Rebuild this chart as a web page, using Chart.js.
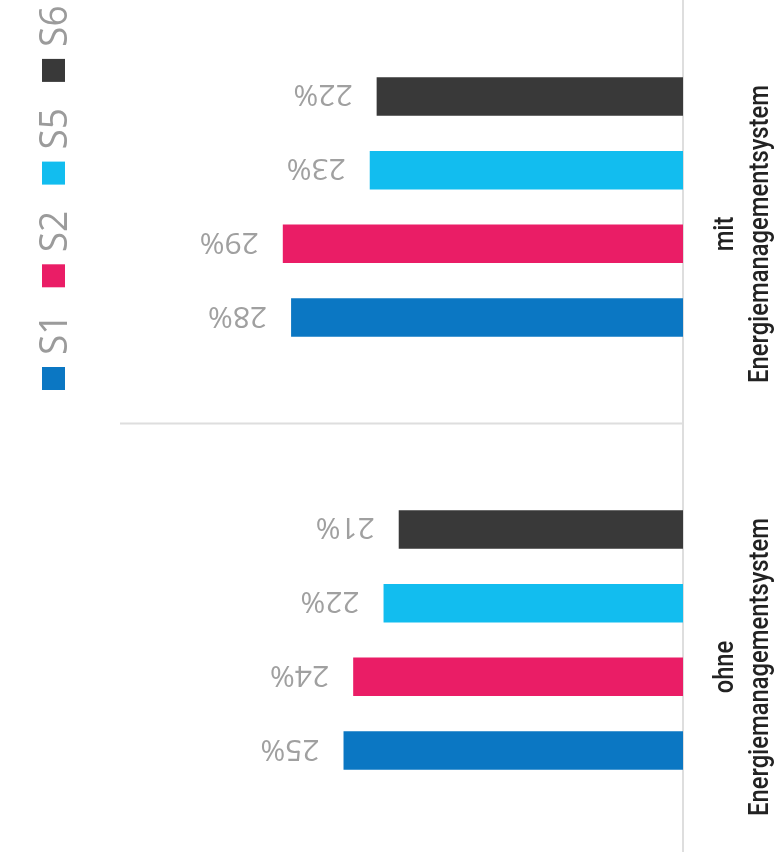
<!DOCTYPE html>
<html lang="de">
<head>
<meta charset="UTF-8">
<title>Energiemanagementsystem</title>
<script src="https://cdn.jsdelivr.net/npm/chart.js@4.4.0/dist/chart.umd.min.js"></script>
<style>
  html, body { margin: 0; padding: 0; background: #fff; }
  #wrap { position: relative; width: 774px; height: 863px; overflow: hidden; background: #fff; }
  #chart { position: absolute; left: 0; top: -10px; }
</style>
</head>
<body>
<div id="wrap">
  <canvas id="chart" width="774" height="870"></canvas>
</div>
<script>
  // categories (top to bottom) and series values in %
  var categories = [['mit', 'Energiemanagementsystem'], ['ohne', 'Energiemanagementsystem']];
  var seriesNames = ['S1', 'S2', 'S5', 'S6'];
  var seriesColors = ['#0b77c3', '#ea1d66', '#12bdef', '#393939'];
  var s1 = [28.4, 24.6];
  var s2 = [29.0, 23.9];
  var s5 = [22.7, 21.7];
  var s6 = [22.2, 20.6];
  var seriesValues = [s1, s2, s5, s6];

  // bars are stacked top-down S6, S5, S2, S1 inside each group
  var datasets = [];
  for (var i = seriesNames.length - 1; i >= 0; i--) {
    datasets.push({
      label: seriesNames[i],
      data: seriesValues[i],
      backgroundColor: seriesColors[i],
      borderWidth: 0,
      categoryPercentage: 0.681,
      barPercentage: 0.522
    });
  }

  function rotatedText(ctx, text, x, y, angle, sx, sy, align) {
    ctx.save();
    ctx.translate(x, y);
    ctx.rotate(angle);
    ctx.scale(sx, sy);
    ctx.textAlign = align;
    ctx.fillText(text, 0, 0);
    ctx.restore();
  }

  var decorations = {
    id: 'decorations',
    beforeDatasetsDraw: function (chart) {
      var ctx = chart.ctx;
      var area = chart.chartArea;
      var yScale = chart.scales.y;
      ctx.save();
      ctx.strokeStyle = '#dedede';
      ctx.lineWidth = 2;
      // axis line on the right
      ctx.beginPath();
      ctx.moveTo(area.right, 0);
      ctx.lineTo(area.right, 862);
      ctx.stroke();
      // separator between the two groups
      var sep = (yScale.getPixelForValue(0) + yScale.getPixelForValue(1)) / 2;
      ctx.beginPath();
      ctx.moveTo(120, sep);
      ctx.lineTo(area.right, sep);
      ctx.stroke();
      ctx.restore();
    },
    afterDatasetsDraw: function (chart) {
      var ctx = chart.ctx;
      var yScale = chart.scales.y;
      ctx.save();

      // value labels, turned upside down
      ctx.fillStyle = '#a0a0a0';
      ctx.font = '30px "Open Sans", "Noto Sans", sans-serif';
      ctx.textBaseline = 'alphabetic';
      chart.data.datasets.forEach(function (ds, di) {
        chart.getDatasetMeta(di).data.forEach(function (bar, j) {
          var left = Math.min(bar.x, bar.base);
          ctx.save();
          ctx.translate(left - 24, bar.y);
          ctx.rotate(Math.PI);
          ctx.textAlign = 'left';
          ctx.fillText(Math.round(ds.data[j]) + '%', 0, 11);
          ctx.restore();
        });
      });

      // category labels, reading bottom to top
      ctx.fillStyle = '#222222';
      ctx.font = '500 25px Roboto, sans-serif';
      ctx.textBaseline = 'alphabetic';
      categories.forEach(function (lines, j) {
        var cy = yScale.getPixelForValue(j) + 27;
        var fit = 298 / ctx.measureText(lines[1]).width;
        rotatedText(ctx, lines[0], 733, cy, -Math.PI / 2, fit, 1.12, 'center');
        rotatedText(ctx, lines[1], 768, cy, -Math.PI / 2, fit, 1.12, 'center');
      });

      // legend on the left, S1 at the bottom
      ctx.font = '37px "Open Sans", "Noto Sans", sans-serif';
      for (var k = 0; k < seriesNames.length; k++) {
        var top = 10 + 367 - k * 102.7;
        ctx.fillStyle = seriesColors[k];
        ctx.fillRect(42, top, 23, 23);
        ctx.fillStyle = '#9b9b9b';
        rotatedText(ctx, seriesNames[k], 67, top - 12, -Math.PI / 2, 1, 1.05, 'left');
      }
      ctx.restore();
    }
  };

  new Chart(document.getElementById('chart').getContext('2d'), {
    type: 'bar',
    data: {
      labels: categories,
      datasets: datasets
    },
    options: {
      indexAxis: 'y',
      responsive: false,
      animation: false,
      layout: {
        padding: { left: 131, right: 91, top: 0.5, bottom: 3.5 }
      },
      scales: {
        x: { display: false, reverse: true, min: 0, max: 40 },
        y: { display: false }
      },
      plugins: {
        legend: { display: false },
        tooltip: { enabled: false }
      }
    },
    plugins: [decorations]
  });
</script>
</body>
</html>
